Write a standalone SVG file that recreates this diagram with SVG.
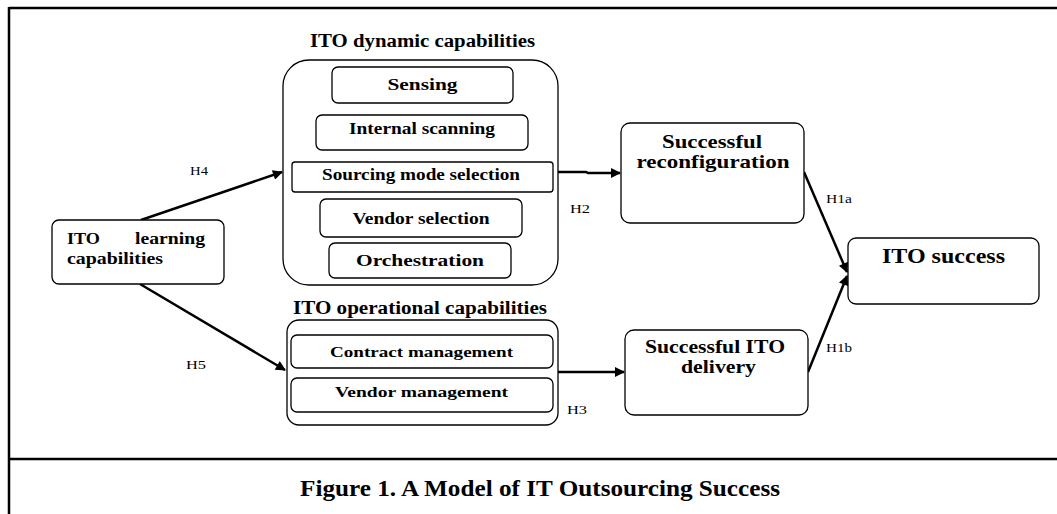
<svg xmlns="http://www.w3.org/2000/svg" width="1057" height="514" viewBox="0 0 1057 514">
<style>
.frame{stroke:#000;stroke-width:2.5;fill:none}
.box{fill:#fff;stroke:#000;stroke-width:1.3}
.t{font-family:"Liberation Serif","Times New Roman",serif;font-weight:bold;fill:#000}
.h{font-family:"Liberation Serif","Times New Roman",serif;font-size:13px;fill:#000}
.cap{font-family:"Liberation Serif","Times New Roman",serif;font-weight:bold;font-size:24px;fill:#000}
.c{stroke:#000;stroke-width:2.5;fill:none}
</style>
<defs>
<marker id="ah" viewBox="0 0 10 10" refX="9" refY="5" markerWidth="4.4" markerHeight="4" orient="auto" markerUnits="strokeWidth">
<path d="M0,0 L10,5 L0,10 z" fill="#000"/>
</marker>
</defs>
<g id="frame">
<line class="frame" x1="9" y1="8" x2="1057" y2="8"/>
<line class="frame" x1="9" y1="7" x2="9" y2="514"/>
<line class="frame" x1="9" y1="459" x2="1057" y2="459"/>
</g>
<g id="connectors">
<line class="c" x1="141" y1="220" x2="282" y2="172" marker-end="url(#ah)"/>
<line class="c" x1="140" y1="284" x2="285" y2="370" marker-end="url(#ah)"/>
<polyline class="c" points="558,172 586,172 588,173 620,173" marker-end="url(#ah)"/>
<line class="c" x1="558" y1="372" x2="624" y2="372" marker-end="url(#ah)"/>
<line class="c" x1="804" y1="172" x2="847" y2="272" marker-end="url(#ah)"/>
<line class="c" x1="808" y1="372" x2="847" y2="276" marker-end="url(#ah)"/>
<text class="h" x="190" y="175" textLength="18" lengthAdjust="spacingAndGlyphs">H4</text>
<text class="h" x="186" y="369" textLength="20" lengthAdjust="spacingAndGlyphs">H5</text>
<text class="h" x="570" y="213" textLength="20" lengthAdjust="spacingAndGlyphs">H2</text>
<text class="h" x="567" y="414" textLength="20" lengthAdjust="spacingAndGlyphs">H3</text>
<text class="h" x="826" y="203" textLength="26" lengthAdjust="spacingAndGlyphs">H1a</text>
<text class="h" x="826" y="352" textLength="26" lengthAdjust="spacingAndGlyphs">H1b</text>
</g>
<g id="learning">
<rect class="box" x="52" y="220" width="172" height="64" rx="7"/>
<text class="t" font-size="16.5" x="67" y="244" textLength="33" lengthAdjust="spacingAndGlyphs">ITO</text>
<text class="t" font-size="16.5" x="135" y="244" textLength="70" lengthAdjust="spacingAndGlyphs">learning</text>
<text class="t" font-size="16.5" x="67" y="264" textLength="96" lengthAdjust="spacingAndGlyphs">capabilities</text>
</g>
<g id="dynamic">
<text class="t" font-size="18" x="310" y="47" textLength="225" lengthAdjust="spacingAndGlyphs">ITO dynamic capabilities</text>
<rect class="box" x="283" y="60" width="275" height="225" rx="26"/>
</g>
<g id="sensing">
<rect class="box" x="332" y="67" width="181" height="36" rx="6"/>
<text class="t" font-size="16.5" x="422.5" y="90" text-anchor="middle" textLength="70" lengthAdjust="spacingAndGlyphs">Sensing</text>
</g>
<g id="internal">
<rect class="box" x="316" y="115" width="212" height="35" rx="6"/>
<text class="t" font-size="16.5" x="422" y="134" text-anchor="middle" textLength="146" lengthAdjust="spacingAndGlyphs">Internal scanning</text>
</g>
<g id="sourcing">
<rect class="box" x="292" y="162" width="261" height="30" rx="3"/>
<text class="t" font-size="16.5" x="421" y="180" text-anchor="middle" textLength="198" lengthAdjust="spacingAndGlyphs">Sourcing mode selection</text>
</g>
<g id="vendorsel">
<rect class="box" x="320" y="199" width="202" height="38" rx="6"/>
<text class="t" font-size="16.5" x="421" y="224" text-anchor="middle" textLength="137" lengthAdjust="spacingAndGlyphs">Vendor selection</text>
</g>
<g id="orchestration">
<rect class="box" x="329" y="243" width="182" height="35" rx="6"/>
<text class="t" font-size="16.5" x="420" y="266" text-anchor="middle" textLength="128" lengthAdjust="spacingAndGlyphs">Orchestration</text>
</g>
<g id="operational">
<text class="t" font-size="18" x="293" y="314" textLength="254" lengthAdjust="spacingAndGlyphs">ITO operational capabilities</text>
<rect class="box" x="287" y="320" width="271" height="105" rx="12"/>
</g>
<g id="contract">
<rect class="box" x="291" y="335" width="262" height="33" rx="6"/>
<text class="t" font-size="15.5" x="421.5" y="357" text-anchor="middle" textLength="183" lengthAdjust="spacingAndGlyphs">Contract management</text>
</g>
<g id="vendormgmt">
<rect class="box" x="291" y="378" width="262" height="34" rx="6"/>
<text class="t" font-size="15.5" x="421.5" y="397" text-anchor="middle" textLength="173" lengthAdjust="spacingAndGlyphs">Vendor management</text>
</g>
<g id="reconfiguration">
<rect class="box" x="621" y="123" width="183" height="100" rx="9"/>
<text class="t" font-size="19.5" x="712" y="148" text-anchor="middle" textLength="100" lengthAdjust="spacingAndGlyphs">Successful</text>
<text class="t" font-size="19.5" x="713" y="168" text-anchor="middle" textLength="153" lengthAdjust="spacingAndGlyphs">reconfiguration</text>
</g>
<g id="delivery">
<rect class="box" x="625" y="330" width="183" height="85" rx="9"/>
<text class="t" font-size="18.5" x="715" y="353" text-anchor="middle" textLength="140" lengthAdjust="spacingAndGlyphs">Successful ITO</text>
<text class="t" font-size="18.5" x="718.5" y="373" text-anchor="middle" textLength="75" lengthAdjust="spacingAndGlyphs">delivery</text>
</g>
<g id="success">
<rect class="box" x="848" y="238" width="191" height="66" rx="8"/>
<text class="t" font-size="21" x="943.5" y="263" text-anchor="middle" textLength="123" lengthAdjust="spacingAndGlyphs">ITO success</text>
</g>
<g id="caption">
<text class="cap" x="540" y="496" text-anchor="middle" textLength="480" lengthAdjust="spacingAndGlyphs">Figure 1. A Model of IT Outsourcing Success</text>
</g>
</svg>
